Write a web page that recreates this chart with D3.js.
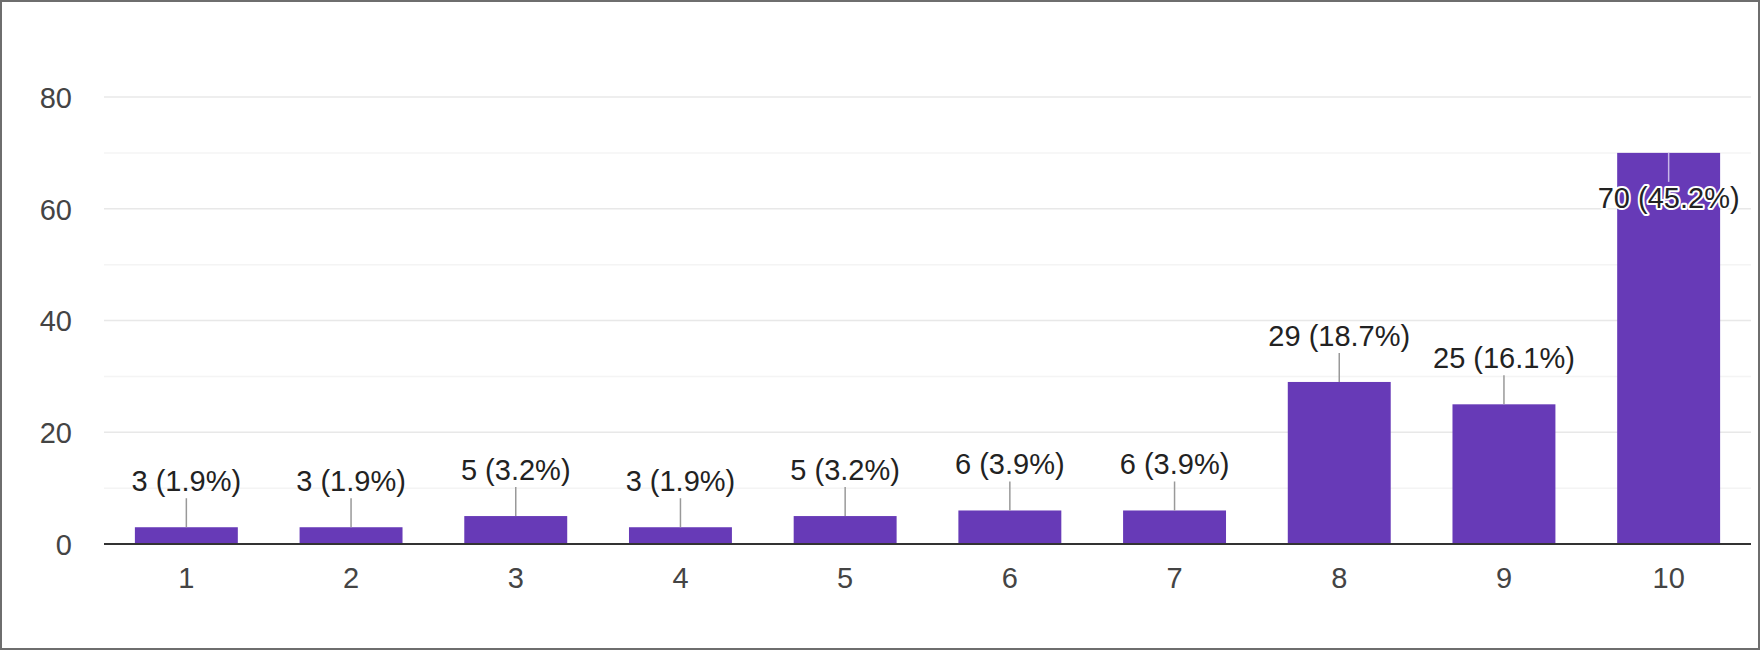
<!DOCTYPE html>
<html>
<head>
<meta charset="utf-8">
<script src="https://cdn.jsdelivr.net/npm/d3@7"></script>
<style>
  html, body { margin: 0; padding: 0; background: #fff; }
  svg { display: block; }
  text { font-family: "Liberation Sans", Arial, sans-serif; }
</style>
</head>
<body>
<script>
const categories = ["1", "2", "3", "4", "5", "6", "7", "8", "9", "10"];
const counts = [3, 3, 5, 3, 5, 6, 6, 29, 25, 70];
const percents = ["1.9%", "1.9%", "3.2%", "1.9%", "3.2%", "3.9%", "3.9%", "18.7%", "16.1%", "45.2%"];
const yTicks = [0, 20, 40, 60, 80];
const yMinorTicks = [10, 30, 50, 70];

(function () {
const W = 1760, H = 650;
const pLeft = 104, pRight = 1751, pTop = 97, pBottom = 544;

const svg = d3.select("body").append("svg").attr("width", W).attr("height", H);

svg.append("rect").attr("x", 1).attr("y", 1).attr("width", W - 2).attr("height", H - 2)
  .attr("fill", "#fff").attr("stroke", "#6e6e6e").attr("stroke-width", 2);

const x = d3.scaleBand().domain(categories).range([pLeft, pRight]).paddingInner(0.375).paddingOuter(0.1875);
const y = d3.scaleLinear().domain([0, 80]).range([pBottom, pTop]);

// minor gridlines
svg.append("g").selectAll("line").data(yMinorTicks).join("line")
  .attr("x1", pLeft).attr("x2", pRight)
  .attr("y1", d => y(d)).attr("y2", d => y(d))
  .attr("stroke", "#f4f4f4").attr("stroke-width", 1.5);

// major gridlines
svg.append("g").selectAll("line").data(yTicks.filter(d => d > 0)).join("line")
  .attr("x1", pLeft).attr("x2", pRight)
  .attr("y1", d => y(d)).attr("y2", d => y(d))
  .attr("stroke", "#e8e8e8").attr("stroke-width", 1.5);

// y axis labels
const yAxis = d3.axisLeft(y).tickValues(yTicks).tickSize(0).tickPadding(0);
const yg = svg.append("g").attr("transform", `translate(72,0)`).call(yAxis);
yg.select(".domain").remove();
yg.selectAll("text").attr("font-size", 29).attr("fill", "#444")
  .attr("font-family", "Liberation Sans, Arial, sans-serif").attr("dy", "0.36em");

const data = categories.map((c, i) => ({ c, v: counts[i], p: percents[i] }));

// bars
svg.append("g").selectAll("rect").data(data).join("rect")
  .attr("x", d => x(d.c)).attr("width", x.bandwidth())
  .attr("y", d => y(d.v)).attr("height", d => y(0) - y(d.v))
  .attr("fill", "#673ab7");

// baseline
svg.append("line").attr("x1", pLeft).attr("x2", pRight)
  .attr("y1", y(0)).attr("y2", y(0)).attr("stroke", "#333").attr("stroke-width", 2);

// x axis labels
const xAxis = d3.axisBottom(x).tickSize(0).tickPadding(0);
const xg = svg.append("g").attr("transform", `translate(0,${pBottom})`).call(xAxis);
xg.select(".domain").remove();
xg.selectAll("text").attr("font-size", 29).attr("fill", "#444")
  .attr("font-family", "Liberation Sans, Arial, sans-serif").attr("y", 44).attr("dy", 0);

// annotations
const stemLen = 29;
const ann = svg.append("g");
data.forEach(d => {
  const cx = x(d.c) + x.bandwidth() / 2;
  const barTop = y(d.v);
  const inside = barTop - stemLen - 7 - 22 < pTop;
  if (!inside) {
    ann.append("line").attr("x1", cx).attr("x2", cx)
      .attr("y1", barTop).attr("y2", barTop - stemLen)
      .attr("stroke", "#999").attr("stroke-width", 1.5);
    ann.append("text").attr("x", cx).attr("y", barTop - stemLen - 7)
      .attr("text-anchor", "middle").attr("font-size", 29).attr("fill", "#222")
      .text(`${d.v} (${d.p})`);
  } else {
    ann.append("line").attr("x1", cx).attr("x2", cx)
      .attr("y1", barTop).attr("y2", barTop + stemLen)
      .attr("stroke", "#c9b8e8").attr("stroke-width", 1.5);
    ann.append("text").attr("x", cx).attr("y", barTop + stemLen + 26)
      .attr("text-anchor", "middle").attr("font-size", 29).attr("fill", "#222")
      .attr("stroke", "#fff").attr("stroke-width", 4).attr("paint-order", "stroke")
      .attr("stroke-linejoin", "round")
      .text(`${d.v} (${d.p})`);
  }
});
})();
</script>
</body>
</html>
